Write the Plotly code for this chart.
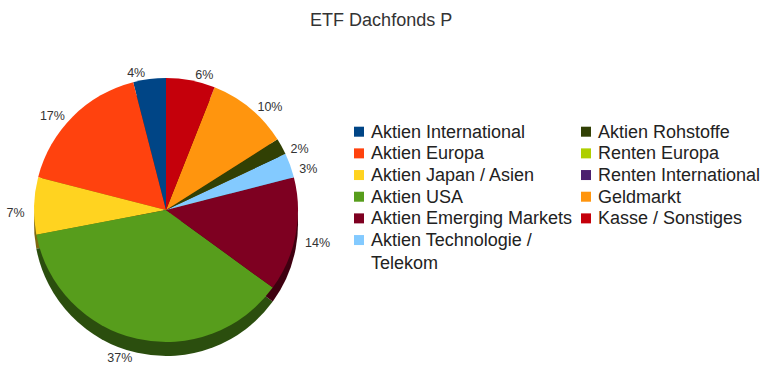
import plotly.graph_objects as go

# ---- data (series order = pie order, counter-clockwise from 12 o'clock) ----
labels = ["Aktien International", "Aktien Europa", "Aktien Japan / Asien", "Aktien USA",
          "Aktien Emerging Markets", "Aktien Technologie /<br>Telekom",
          "Aktien Rohstoffe", "Renten Europa", "Renten International",
          "Geldmarkt", "Kasse / Sonstiges"]
values = [4, 17, 7, 37, 14, 3, 2, 0, 0, 10, 6]
colors = ["#004586", "#ff420e", "#ffd320", "#579d1c", "#7e0021", "#83caff",
          "#314004", "#aecf00", "#4b1f6f", "#ff950e", "#c5000b"]
title_text = "ETF Dachfonds P"

W, H = 770, 384
FONT = "Liberation Sans, Arial, sans-serif"
ROWS_PER_COL = 6


def darken(hexcol, f=0.5):
    h = hexcol.lstrip("#")
    r, g, b = (int(h[i:i + 2], 16) for i in (0, 2, 4))
    return "rgb(%d,%d,%d)" % (r * f, g * f, b * f)


pie_idx = [i for i, v in enumerate(values) if v > 0]
p_labels = [labels[i] for i in pie_idx]
p_values = [values[i] for i in pie_idx]
p_colors = [colors[i] for i in pie_idx]
# first slice should sit just left of 12 o'clock
rot = -360.0 * p_values[0] / sum(p_values)


def dom(cx, cy, r):
    return dict(x=[(cx - r) / W, (cx + r) / W], y=[1 - (cy + r) / H, 1 - (cy - r) / H])


common = dict(labels=p_labels, values=p_values, sort=False,
              direction="counterclockwise", rotation=rot, showlegend=False)

fig = go.Figure()

# label carrier (transparent envelope incl. 3D depth)
fig.add_trace(go.Pie(
    **common,
    marker=dict(colors=["rgba(0,0,0,0)"] * len(p_values), line=dict(width=0)),
    textinfo="percent", textposition="outside",
    outsidetextfont=dict(family=FONT, size=12.5, color="#333333"),
    domain=dom(166, 217, 138), hoverinfo="skip",
))

# side (depth) of the pie
fig.add_trace(go.Pie(
    **common,
    marker=dict(colors=[darken(c) for c in p_colors], line=dict(width=0)),
    textinfo="none", domain=dom(166, 224, 132), hoverinfo="skip",
))

# top face
fig.add_trace(go.Pie(
    **common,
    marker=dict(colors=p_colors, line=dict(width=0)),
    textinfo="none", domain=dom(166, 210, 132),
    hovertemplate="%{label}: %{percent}<extra></extra>",
))

# legend swatches on hidden axes (column / row from list order)
cols = [i // ROWS_PER_COL for i in range(len(labels))]
rows = [i % ROWS_PER_COL for i in range(len(labels))]
fig.add_trace(go.Scatter(
    x=cols, y=rows, mode="markers",
    marker=dict(symbol="square", size=10, color=colors, line=dict(width=0)),
    showlegend=False, hoverinfo="skip",
))

annotations = []
for lab, c, r in zip(labels, cols, rows):
    nlines = lab.count("<br>") + 1
    annotations.append(dict(
        x=c, y=r, xref="x", yref="y", text=lab, showarrow=False,
        xanchor="left", yanchor="middle", xshift=10,
        yshift=-(nlines - 1) * 18 * 1.3 / 2,
        align="left", font=dict(family=FONT, size=18, color="#222222"),
    ))

fig.update_layout(
    width=W, height=H,
    margin=dict(l=0, r=0, t=0, b=0),
    paper_bgcolor="white", plot_bgcolor="white",
    title=dict(text=title_text, x=0.495, xanchor="center", y=1 - 20 / H, yanchor="middle",
               font=dict(family=FONT, size=18, color="#333333")),
    xaxis=dict(visible=False, range=[-359 / 227, -359 / 227 + W / 227], fixedrange=True),
    yaxis=dict(visible=False, range=[-131.7 / 21.67 + H / 21.67, -131.7 / 21.67], fixedrange=True),
    annotations=annotations,
    showlegend=False,
)

fig.write_html("out.html")
